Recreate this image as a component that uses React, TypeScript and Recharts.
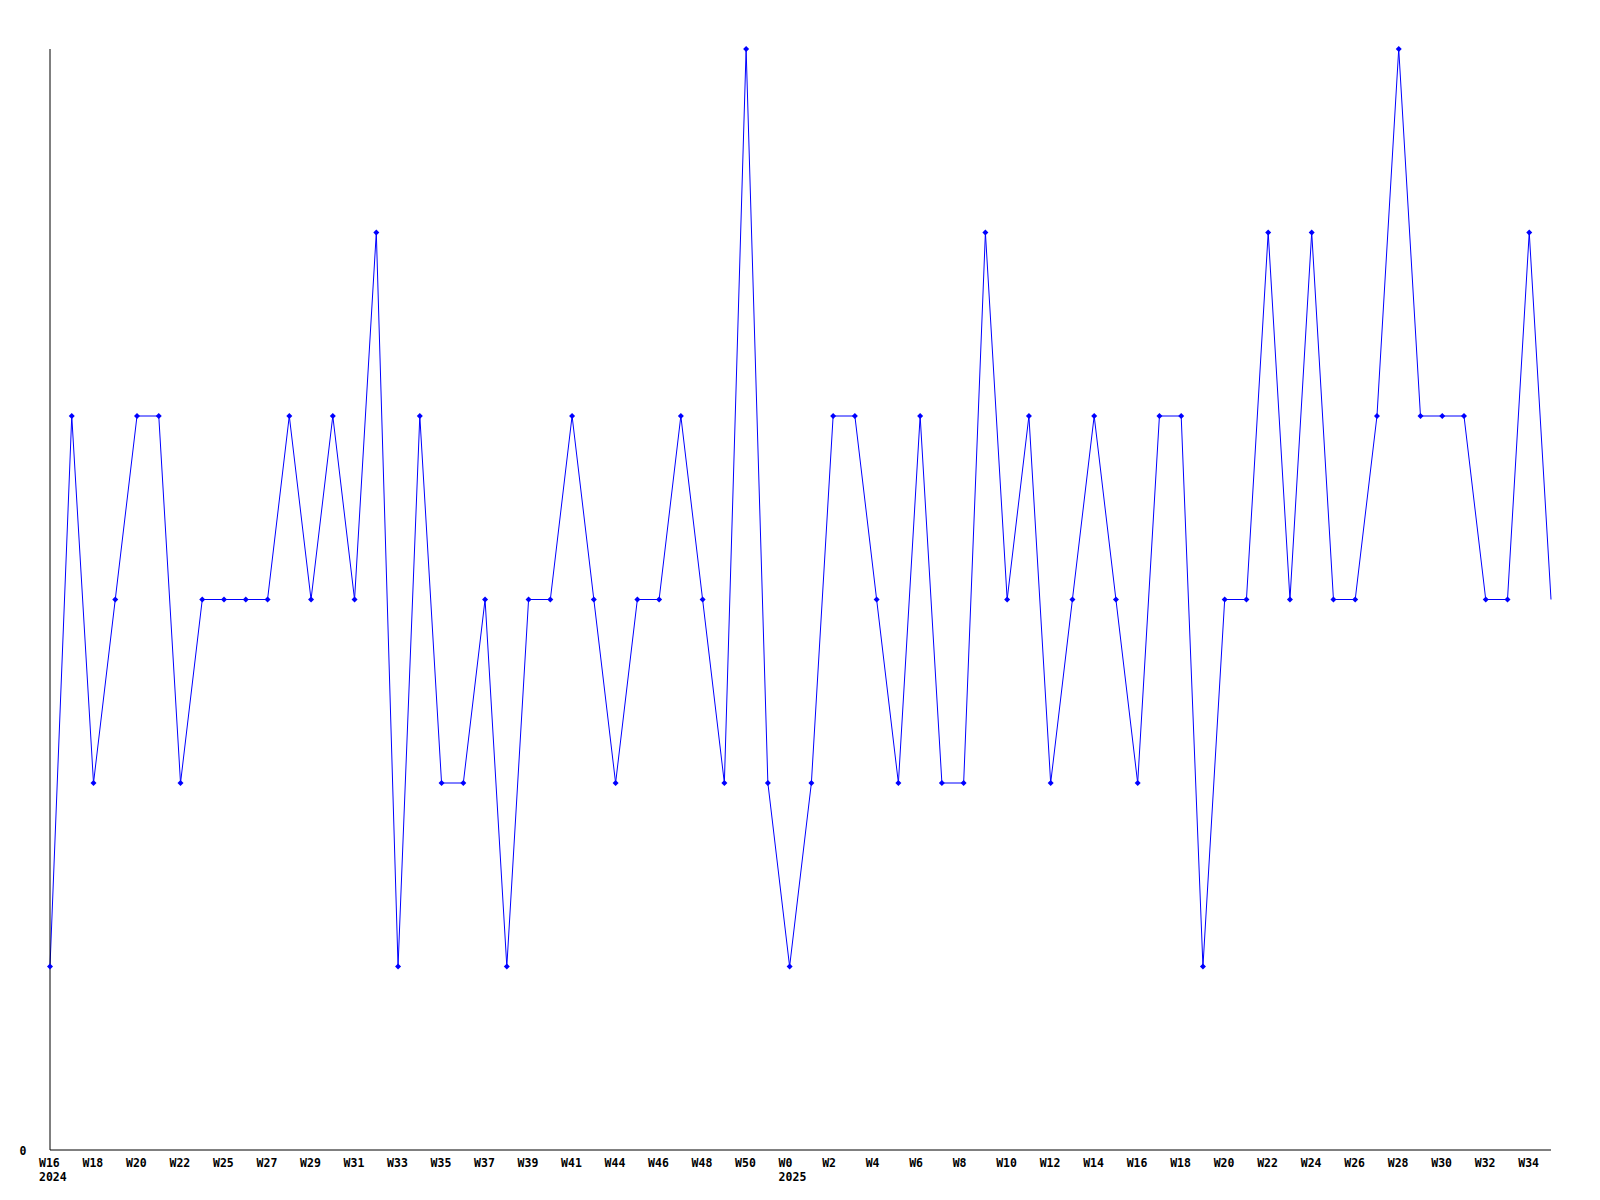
import { LineChart, Line, XAxis, YAxis } from 'recharts'

// weekly counts, one entry per point
const weeks = [
    'W16', 'W17', 'W18', 'W19', 'W20', 'W21', 'W22', 'W23', 'W25', 'W26',
    'W27', 'W28', 'W29', 'W30', 'W31', 'W32', 'W33', 'W34', 'W35', 'W36',
    'W37', 'W38', 'W39', 'W40', 'W41', 'W43', 'W44', 'W45', 'W46', 'W47',
    'W48', 'W49', 'W50', 'W51', 'W0', 'W1', 'W2', 'W3', 'W4', 'W5',
    'W6', 'W7', 'W8', 'W9', 'W10', 'W11', 'W12', 'W13', 'W14', 'W15',
    'W16', 'W17', 'W18', 'W19', 'W20', 'W21', 'W22', 'W23', 'W24', 'W25',
    'W26', 'W27', 'W28', 'W29', 'W30', 'W31', 'W32', 'W33', 'W34', 'W35',
]

const counts = [
    1, 4, 2, 3, 4, 4, 2, 3, 3, 3,
    3, 4, 3, 4, 3, 5, 1, 4, 2, 2,
    3, 1, 3, 3, 4, 3, 2, 3, 3, 4,
    3, 2, 6, 2, 1, 2, 4, 4, 3, 2,
    4, 2, 2, 5, 3, 4, 2, 3, 4, 3,
    2, 4, 4, 1, 3, 3, 5, 3, 5, 3,
    3, 4, 6, 4, 4, 4, 3, 3, 5, 3,
]

const yearStarts = [
    { index: 0, year: '2024' },
    { index: 34, year: '2025' },
]

const yTicks = [0]

const data = weeks.map((week, i) => ({ id: i, week, count: counts[i] }))

const FONT = '"DejaVu Sans Mono", monospace'

function WeekTick(props: any) {
    const { x, y, index } = props
    if (index % 2 !== 0) return null
    const start = yearStarts.find(s => s.index === index)
    return (
        <g>
            <text x={x - 11} y={y + 13} textAnchor="start" dominantBaseline="central"
                fontFamily={FONT} fontSize={11.5} fontWeight="bold" fill="#000">
                {weeks[index]}
            </text>
            {start && (
                <text x={x - 11} y={y + 27} textAnchor="start" dominantBaseline="central"
                    fontFamily={FONT} fontSize={11.5} fontWeight="bold" fill="#000">
                    {start.year}
                </text>
            )}
        </g>
    )
}

function ZeroTick(props: any) {
    const { y, payload } = props
    return (
        <text x={23} y={y + 1} textAnchor="middle" dominantBaseline="central"
            fontFamily={FONT} fontSize={11.5} fontWeight="bold" fill="#000">
            {payload.value}
        </text>
    )
}

function Marker(props: any) {
    const { cx, cy, index } = props
    if (index === counts.length - 1) return <g key={index} />
    return (
        <polygon key={index}
            points={`${cx},${cy - 3} ${cx + 3},${cy} ${cx},${cy + 3} ${cx - 3},${cy}`}
            fill="#0000ff" />
    )
}

export default function App() {
    return (
        <div style={{ position: 'absolute', left: 0, top: 0, width: 1600, height: 1200, background: '#fff' }}>
            <LineChart width={1600} height={1200} data={data}
                margin={{ top: 49, right: 49, left: 10, bottom: 0 }}>
                <XAxis dataKey="id" type="category" interval={0} height={50}
                    tickLine={false} tickSize={0} tickMargin={0}
                    axisLine={{ stroke: '#000', strokeWidth: 1 }}
                    tick={<WeekTick />} />
                <YAxis domain={[0, 6]} ticks={yTicks} width={40}
                    tickLine={false} tickSize={0} tickMargin={0}
                    axisLine={{ stroke: '#000', strokeWidth: 1 }}
                    tick={<ZeroTick />} />
                <Line type="linear" dataKey="count" stroke="#0000ff" strokeWidth={1}
                    dot={<Marker />} activeDot={false} isAnimationActive={false} />
            </LineChart>
        </div>
    )
}
